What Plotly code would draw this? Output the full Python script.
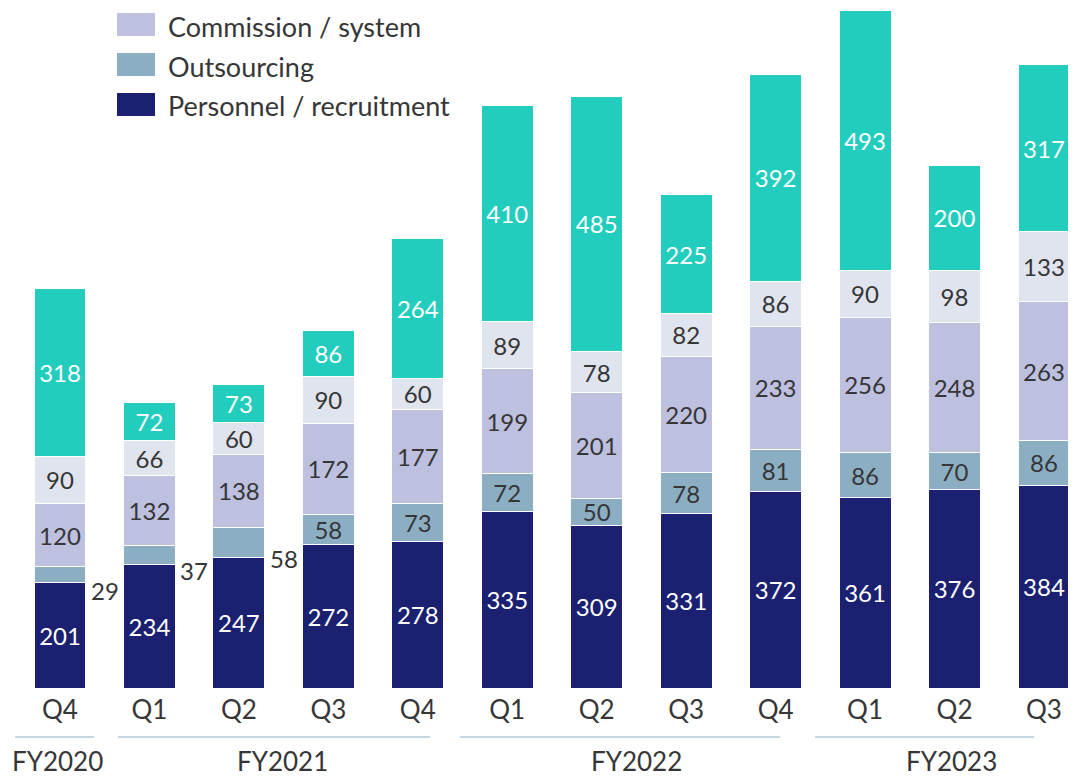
import plotly.graph_objects as go

quarters = ["Q4", "Q1", "Q2", "Q3", "Q4", "Q1", "Q2", "Q3", "Q4", "Q1", "Q2", "Q3"]
fiscal_years = ["FY2020", "FY2021", "FY2022", "FY2023"]

personnel = [201, 234, 247, 272, 278, 335, 309, 331, 372, 361, 376, 384]
outsourcing = [29, 37, 58, 58, 73, 72, 50, 78, 81, 86, 70, 86]
commission = [120, 132, 138, 172, 177, 199, 201, 220, 233, 256, 248, 263]
other = [90, 66, 60, 90, 60, 89, 78, 82, 86, 90, 98, 133]
advertising = [318, 72, 73, 86, 264, 410, 485, 225, 392, 493, 200, 317]

outside_label_idx = [0, 1, 2]

C_NAVY = "#1b2070"
C_OUT = "#8caec2"
C_COMM = "#bdc0df"
C_OTHER = "#dfe4ee"
C_TEAL = "#22cdbd"
TXT = "#363636"
FONT = "Lato"
LBL = 24

# page body has an 8px margin; figure is sized to fill the rest of the window
FIG_W, FIG_H = 1068, 768
PLOT_H = 680.0

x = list(range(len(quarters)))
W = 0.58

fig = go.Figure()


def add(vals, color, txtcolor, name, texts=None):
    fig.add_trace(go.Bar(
        x=x, y=vals, width=W, name=name,
        marker=dict(color=color, line=dict(color="white", width=1)),
        text=texts if texts is not None else [str(v) for v in vals],
        textposition="inside", insidetextanchor="middle", textangle=0,
        textfont=dict(color=txtcolor, size=LBL, family=FONT),
        showlegend=False, hoverinfo="skip",
    ))


add(personnel, C_NAVY, "white", "Personnel / recruitment")
add(outsourcing, C_OUT, TXT, "Outsourcing",
    ["" if i in outside_label_idx else str(v) for i, v in enumerate(outsourcing)])
add(commission, C_COMM, TXT, "Commission / system")
add(other, C_OTHER, TXT, "Other")
add(advertising, C_TEAL, "white", "Advertising")

# outside labels for thin outsourcing segments
for i in outside_label_idx:
    fig.add_annotation(x=i, y=personnel[i] + outsourcing[i] / 2, text=str(outsourcing[i]),
                       showarrow=False, xshift=45, yshift=-16,
                       font=dict(size=LBL, color=TXT, family=FONT))


def py2paper(py):
    return 1 - py / PLOT_H


# custom legend
legend_items = [("Commission / system", C_COMM), ("Outsourcing", C_OUT), ("Personnel / recruitment", C_NAVY)]
for k, (name, col) in enumerate(legend_items):
    cy = 16.5 + 40 * k
    fig.add_shape(type="rect", xref="paper", yref="paper",
                  x0=109 / FIG_W, x1=147 / FIG_W, y0=py2paper(cy + 11.5), y1=py2paper(cy - 11.5),
                  fillcolor=col, line=dict(width=0))
    fig.add_annotation(xref="paper", yref="paper", x=158 / FIG_W, y=py2paper(cy + 1.5), text=name,
                       showarrow=False, xanchor="left", yanchor="middle",
                       font=dict(size=27, color=TXT, family=FONT))

# fiscal-year group lines and labels
groups = [(-0.503, 0.38, 0), (0.648, 4.136, 1), (4.47, 8.05, 2), (8.44, 10.89, 3)]
label_x = [-0.03, 2.49, 6.44, 9.97]
for (a, b, g), lx in zip(groups, label_x):
    fig.add_shape(type="line", xref="x", yref="paper", x0=a, x1=b,
                  y0=py2paper(729), y1=py2paper(729), line=dict(color="#c5d6e4", width=2))
    fig.add_annotation(xref="x", yref="paper", x=lx, y=py2paper(753), text=fiscal_years[g],
                       showarrow=False, yanchor="middle",
                       font=dict(size=26, color=TXT, family=FONT))

fig.update_layout(
    barmode="stack",
    width=FIG_W, height=FIG_H,
    margin=dict(l=0, r=0, t=0, b=FIG_H - int(PLOT_H)),
    plot_bgcolor="white", paper_bgcolor="white",
    uniformtext=dict(mode="show", minsize=LBL),
    font=dict(family=FONT, color=TXT),
    xaxis=dict(range=[-0.5813, 11.358], tickmode="array", tickvals=x, ticktext=quarters,
               tickfont=dict(size=26, color=TXT, family=FONT), showgrid=False, zeroline=False,
               showline=False, ticks="", ticklabelstandoff=4),
    yaxis=dict(range=[0, 1290.3], visible=False, showgrid=False),
)

fig.write_html("out.html")
